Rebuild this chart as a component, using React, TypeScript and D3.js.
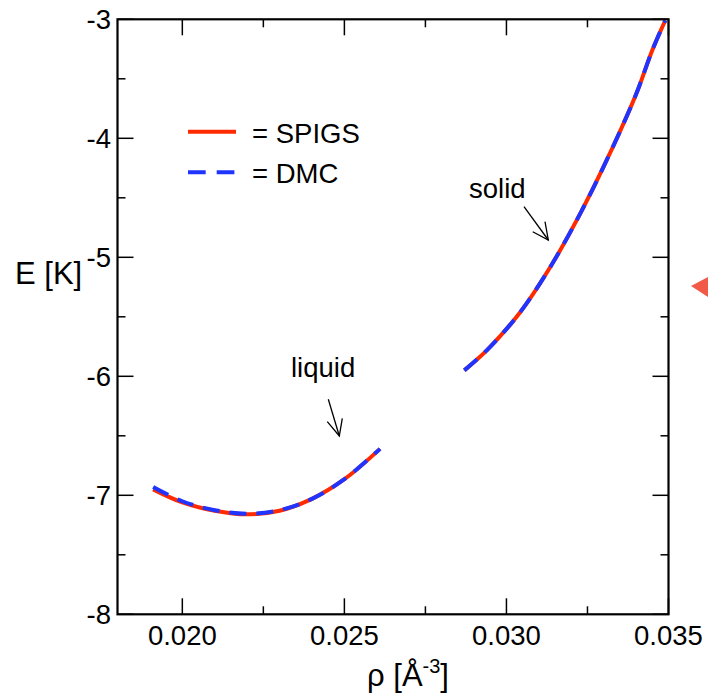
import React from "react";
import * as d3 from "d3";

// density ρ [Å^-3]
const liquidRho = [0.0191, 0.0200, 0.0210, 0.0220, 0.0230, 0.0240, 0.0250, 0.0261];
const liquidSPIGS = [-6.95, -7.06, -7.13, -7.16, -7.13, -7.03, -6.865, -6.61];
const liquidDMC = [-6.93, -7.05, -7.125, -7.155, -7.125, -7.03, -6.865, -6.61];

const solidRho = [0.0287, 0.0294, 0.0304, 0.0314, 0.0323, 0.0331, 0.0340, 0.0345, 0.0349];
const solidSPIGS = [-5.95, -5.78, -5.47, -5.06, -4.62, -4.18, -3.63, -3.26, -3.01];
const solidDMC = [-5.95, -5.78, -5.47, -5.06, -4.62, -4.18, -3.63, -3.26, -3.01];

const xMajorTicks = [0.02, 0.025, 0.03, 0.035];
const xTickLabels = ["0.020", "0.025", "0.030", "0.035"];
const xMinorTicks = [0.0225, 0.0275, 0.0325];
const yMajorTicks = [-3, -4, -5, -6, -7, -8];
const yMinorTicks = [-3.5, -4.5, -5.5, -6.5, -7.5];

const seriesNames = ["SPIGS", "DMC"];

const W = 708;
const H = 694;
const FONT = "'Liberation Sans', Arial, Helvetica, sans-serif";
const RED = "#ff2a00";
const BLUE = "#1f35ff";

export default function App() {
  const left = 117.5, right = 668.5, top = 19.3, bottom = 614.3;
  const x = d3.scaleLinear().domain([0.018, 0.035]).range([left, right]);
  const y = d3.scaleLinear().domain([-8, -3]).range([bottom, top]);

  const line = d3
    .line<[number, number]>()
    .x((d) => x(d[0]))
    .y((d) => y(d[1]))
    .curve(d3.curveCatmullRom.alpha(0.5));

  const zip = (a: number[], b: number[]) => a.map((v, i) => [v, b[i]] as [number, number]);

  const majorLen = 16, minorLen = 8;

  return (
    <svg width={W} height={H} style={{ position: "absolute", left: 0, top: 0, background: "#fff" }}>
      {/* curves */}
      <g fill="none" strokeWidth={4}>
        <path d={line(zip(liquidRho, liquidSPIGS)) || ""} stroke={RED} />
        <path d={line(zip(solidRho, solidSPIGS)) || ""} stroke={RED} />
        <path d={line(zip(liquidRho, liquidDMC)) || ""} stroke={BLUE} strokeDasharray="17 10" />
        <path d={line(zip(solidRho, solidDMC)) || ""} stroke={BLUE} strokeDasharray="17 10" />
      </g>

      {/* ticks */}
      <g stroke="#000" strokeWidth={1.5}>
        {xMajorTicks.map((t) => (
          <g key={"xM" + t}>
            <line x1={x(t)} x2={x(t)} y1={bottom} y2={bottom - majorLen} />
            <line x1={x(t)} x2={x(t)} y1={top} y2={top + majorLen} />
          </g>
        ))}
        {xMinorTicks.map((t) => (
          <g key={"xm" + t}>
            <line x1={x(t)} x2={x(t)} y1={bottom} y2={bottom - minorLen} />
            <line x1={x(t)} x2={x(t)} y1={top} y2={top + minorLen} />
          </g>
        ))}
        {yMajorTicks.map((t) => (
          <g key={"yM" + t}>
            <line x1={left} x2={left + majorLen} y1={y(t)} y2={y(t)} />
            <line x1={right} x2={right - majorLen} y1={y(t)} y2={y(t)} />
          </g>
        ))}
        {yMinorTicks.map((t) => (
          <g key={"ym" + t}>
            <line x1={left} x2={left + minorLen} y1={y(t)} y2={y(t)} />
            <line x1={right} x2={right - minorLen} y1={y(t)} y2={y(t)} />
          </g>
        ))}
      </g>

      {/* frame */}
      <rect x={left} y={top} width={right - left} height={bottom - top} fill="none" stroke="#000" strokeWidth={2.2} />

      {/* tick labels */}
      <g fontFamily={FONT} fontSize={27.5} fill="#000">
        {xMajorTicks.map((t, i) => (
          <text key={"xl" + t} x={x(t)} y={645} textAnchor="middle">
            {xTickLabels[i]}
          </text>
        ))}
        {yMajorTicks.map((t) => (
          <text key={"yl" + t} x={111} y={y(t) + 10} textAnchor="end">
            {String(t)}
          </text>
        ))}
      </g>
      <g fontFamily={FONT} fontSize={31} fill="#000">
        <text x={15} y={284}>E [K]</text>
        <text x={408} y={686} textAnchor="middle">
          ρ [Å<tspan fontSize={20} dy={-13}>-3</tspan>
          <tspan dy={13}>]</tspan>
        </text>
      </g>

      {/* legend */}
      <g fontFamily={FONT} fontSize={27.5}>
        <line x1={188} x2={236} y1={131.7} y2={131.7} stroke={RED} strokeWidth={4} />
        <text x={252} y={143}>= {seriesNames[0]}</text>
        <line x1={188} x2={236} y1={172.3} y2={172.3} stroke={BLUE} strokeWidth={4} strokeDasharray="17.7 11" />
        <text x={252} y={183}>= {seriesNames[1]}</text>
      </g>

      {/* annotations */}
      <g fontFamily={FONT} fontSize={27.5}>
        <text x={469} y={198}>solid</text>
        <text x={291} y={377}>liquid</text>
      </g>
      <g stroke="#000" strokeWidth={1.3} fill="none">
        <line x1={524} y1={206.7} x2={548.3} y2={240} />
        <polyline points="532.7,231.7 548.3,240 545,221.7" />
        <line x1={328.3} y1={399.3} x2={339.3} y2={436} />
        <polyline points="327.3,421.7 339.3,436 342.3,418.3" />
      </g>

      {/* edge marker */}
      <path d={`M${W - 17},286 L${W},277 L${W},297 Z`} fill="#f25a48" />
    </svg>
  );
}
